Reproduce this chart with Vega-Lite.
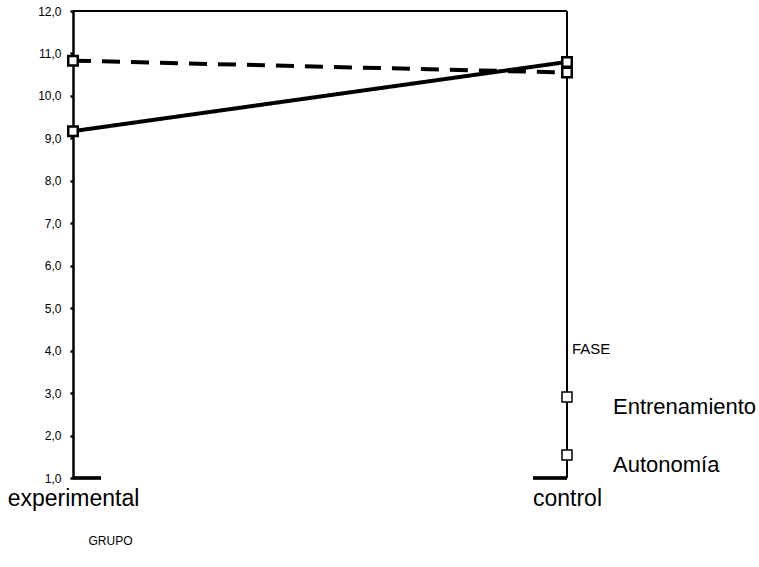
{
  "$schema": "https://vega.github.io/schema/vega-lite/v6.json",
  "width": 494,
  "height": 467,
  "autosize": {"type": "none"},
  "padding": {"left": 73, "top": 11, "right": 192, "bottom": 89},
  "background": "white",
  "config": {
    "view": {"stroke": null},
    "font": "Liberation Sans",
    "axis": {"grid": false}
  },
  "datasets": {
    "medias": [
      {"GRUPO": "experimental", "FASE": "Entrenamiento", "media": 9.17},
      {"GRUPO": "control", "FASE": "Entrenamiento", "media": 10.8},
      {"GRUPO": "experimental", "FASE": "Autonomía", "media": 10.83},
      {"GRUPO": "control", "FASE": "Autonomía", "media": 10.55}
    ]
  },
  "data": {"name": "medias"},
  "encoding": {
    "x": {
      "field": "GRUPO",
      "type": "nominal",
      "scale": {"type": "point", "domain": ["experimental", "control"], "padding": 0},
      "axis": {
        "title": "GRUPO",
        "labelAngle": 0,
        "labelFontSize": 23,
        "labelColor": "black",
        "labelPadding": 9,
        "labelBaseline": "top",
        "domain": false,
        "ticks": false,
        "titleFontSize": 12,
        "titleFontWeight": "normal",
        "titleColor": "black",
        "titleX": 37,
        "titleY": 62,
        "titleAlign": "center",
        "titleBaseline": "middle"
      }
    },
    "y": {
      "field": "media",
      "type": "quantitative",
      "scale": {"domain": [1, 12], "nice": false, "zero": false},
      "axis": {
        "title": null,
        "values": [1, 2, 3, 4, 5, 6, 7, 8, 9, 10, 11, 12],
        "labelExpr": "replace(format(datum.value, '.1f'), '.', ',')",
        "labelFontSize": 12,
        "labelColor": "black",
        "labelPadding": 9,
        "tickSize": 3,
        "tickWidth": 2.5,
        "tickColor": "black",
        "domainColor": "black",
        "domainWidth": 2.5
      }
    }
  },
  "layer": [
    {
      "mark": {"type": "rule", "color": "black", "strokeWidth": 2},
      "encoding": {
        "x": {"datum": "experimental"},
        "x2": {"datum": "control"},
        "y": {"datum": 12}
      }
    },
    {
      "mark": {"type": "rule", "color": "black", "strokeWidth": 2},
      "encoding": {
        "x": {"datum": "control"},
        "y": {"datum": 1},
        "y2": {"datum": 12}
      }
    },
    {
      "mark": {"type": "tick", "orient": "horizontal", "color": "black", "thickness": 3, "size": 28, "xOffset": 14},
      "encoding": {
        "x": {"datum": "experimental"},
        "y": {"datum": 1}
      }
    },
    {
      "mark": {"type": "tick", "orient": "horizontal", "color": "black", "thickness": 3, "size": 34, "xOffset": -17},
      "encoding": {
        "x": {"datum": "control"},
        "y": {"datum": 1}
      }
    },
    {
      "mark": {"type": "line", "color": "black", "strokeWidth": 4},
      "encoding": {
        "detail": {"field": "FASE"},
        "strokeDash": {
          "field": "FASE",
          "type": "nominal",
          "scale": {"domain": ["Entrenamiento", "Autonomía"], "range": [[1, 0], [18, 11]]},
          "legend": null
        }
      }
    },
    {
      "mark": {"type": "point", "filled": true, "fill": "white", "stroke": "black", "strokeWidth": 2.5, "size": 90, "opacity": 1},
      "encoding": {
        "shape": {
          "field": "FASE",
          "type": "nominal",
          "scale": {"domain": ["Entrenamiento", "Autonomía"], "range": ["square", "square"]},
          "legend": {
            "title": "FASE",
            "orient": "none",
            "legendX": 499,
            "legendY": 331,
            "padding": 0,
            "titleFontSize": 15,
            "titleFontWeight": "normal",
            "titleColor": "black",
            "titleBaseline": "top",
            "titlePadding": 29,
            "symbolOffset": -16,
            "symbolSize": 100,
            "symbolType": "square",
            "labelFontSize": 22,
            "labelColor": "black",
            "labelOffset": 35,
            "labelBaseline": "top",
            "labelLimit": 300,
            "rowPadding": 26,
            "encode": {
              "symbols": {
                "update": {
                  "stroke": {"value": "black"},
                  "strokeWidth": {"value": 3},
                  "fill": {"value": "white"},
                  "opacity": {"value": 1}
                }
              },
              "labels": {
                "update": {
                  "dy": {"value": 4}
                }
              }
            }
          }
        }
      }
    }
  ],
  "resolve": {"legend": {"shape": "independent", "strokeDash": "independent"}}
}
